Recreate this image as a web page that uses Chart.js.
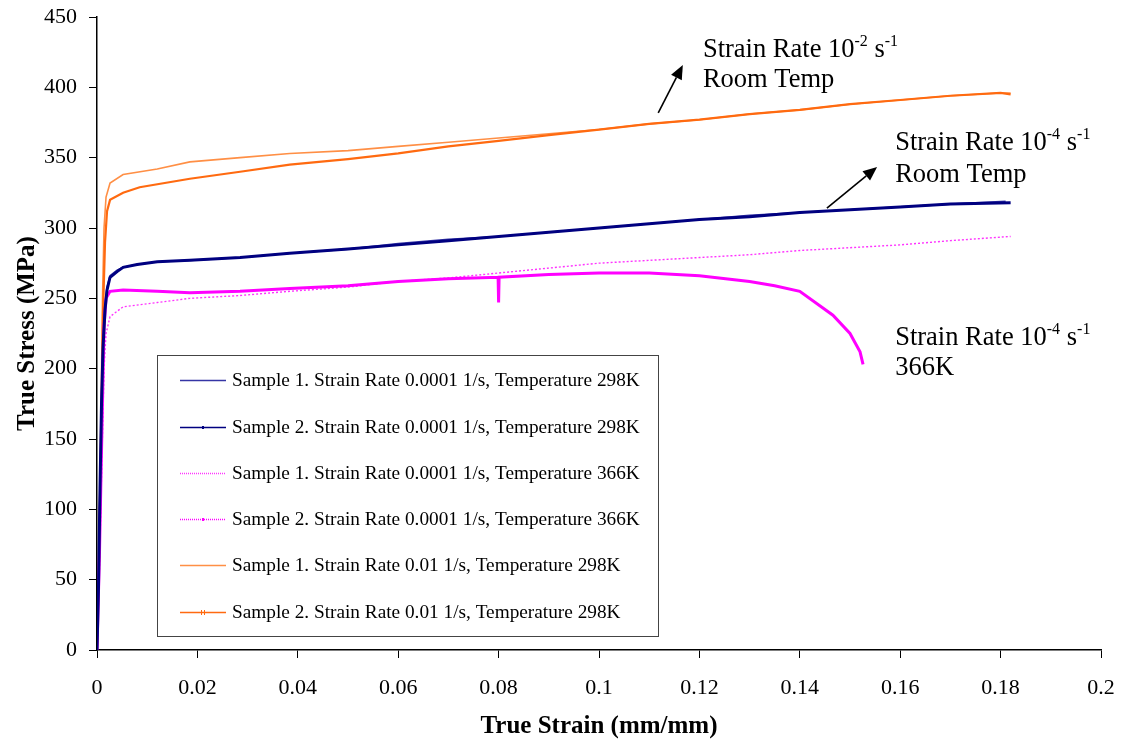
<!DOCTYPE html>
<html><head><meta charset="utf-8">
<script src="https://cdn.jsdelivr.net/npm/chart.js@4.4.1/dist/chart.umd.min.js"></script>
<style>html,body{margin:0;padding:0;background:#fff}#wrap{width:1128px;height:746px;position:relative}</style>
</head><body><div id="wrap"><canvas id="c" width="1128" height="746"></canvas></div>
<script>
// ---- data (true strain mm/mm, true stress MPa) ----
const xTicks = [0,0.02,0.04,0.06,0.08,0.1,0.12,0.14,0.16,0.18,0.2];
const yTicks = [0,50,100,150,200,250,300,350,400,450];

const strainNavy1 = [0,0.0003,0.0006,0.0009,0.0012,0.0016,0.002,0.0026,0.004,0.0052,0.008,0.012,0.0185,0.0285,0.0384,0.05,0.06,0.07,0.08,0.09,0.1,0.11,0.12,0.13,0.14,0.15,0.16,0.17,0.181];
const stressNavy1 = [0,50,120,180,220,245,258,266,270,272,274,276,277,279,282,285,289,292,294,297,300,303,306,309,311,313,315,317,319];
const strainNavy2 = [0,0.0003,0.0006,0.0009,0.0012,0.0016,0.002,0.0026,0.004,0.0052,0.008,0.012,0.0185,0.0285,0.0384,0.05,0.06,0.07,0.08,0.09,0.1,0.11,0.12,0.13,0.14,0.15,0.16,0.17,0.182];
const stressNavy2 = [0,45,115,175,215,242,256,265,269,272,274,276,277,279,282,285,288,291,294,297,300,303,306,308,311,313,315,317,318];

const strainPink1 = [0,0.0005,0.001,0.0014,0.0018,0.0026,0.0052,0.012,0.0185,0.0285,0.0384,0.05,0.06,0.07,0.08,0.09,0.1,0.11,0.12,0.13,0.14,0.15,0.16,0.17,0.182];
const stressPink1 = [0,60,140,200,225,237,244,247,250,252,255,258,262,264.5,268,271.5,275,277,279,281,284,286,288,291,294];
const strainPink2 = [0,0.0005,0.001,0.0014,0.0018,0.0026,0.0052,0.012,0.0185,0.0285,0.0384,0.05,0.06,0.07,0.0799,0.08,0.0801,0.09,0.1,0.11,0.12,0.13,0.135,0.14,0.1466,0.15,0.152,0.1526];
const stressPink2 = [0,70,160,230,250,255,256,255,254,255,257,259,262,264,265,247,265,267,268,268,266,262,259,255,238,225,212,203];

const strainOrange1 = [0,0.0004,0.0008,0.0011,0.0014,0.0018,0.0026,0.0052,0.012,0.0185,0.0285,0.0384,0.05,0.06,0.07,0.08,0.09,0.1,0.11,0.12,0.13,0.14,0.15,0.16,0.17,0.18,0.182];
const stressOrange1 = [0,80,170,250,300,322,332,338,342,347,350,353,355,358,361,364,367,370,374,377,381,384,388,391,394,396,396];
const strainOrange2 = [0,0.0005,0.0009,0.0012,0.0016,0.002,0.0026,0.0052,0.0085,0.0185,0.0285,0.0384,0.05,0.06,0.07,0.08,0.09,0.1,0.11,0.12,0.13,0.14,0.15,0.16,0.17,0.18,0.182];
const stressOrange2 = [0,80,160,240,290,312,320,325,329,335,340,345,349,353,358,362,366,370,374,377,381,384,388,391,394,396,395];

const seriesLabels = [
  'Sample 1. Strain Rate 0.0001 1/s, Temperature 298K',
  'Sample 2. Strain Rate 0.0001 1/s, Temperature 298K',
  'Sample 1. Strain Rate 0.0001 1/s, Temperature 366K',
  'Sample 2. Strain Rate 0.0001 1/s, Temperature 366K',
  'Sample 1. Strain Rate 0.01 1/s, Temperature 298K',
  'Sample 2. Strain Rate 0.01 1/s, Temperature 298K'
];
const annotations = [
  {x:0.1207, y:421.6, y2:400.2, l1:'Strain Rate 10', e1:'-2', l2:'Room Temp'},
  {x:0.159, y:355.4, y2:332.7, l1:'Strain Rate 10', e1:'-4', l2:'Room Temp'},
  {x:0.159, y:216.8, y2:195.5, l1:'Strain Rate 10', e1:'-4', l2:'366K'}
];
const arrows = [
  {x0:0.1118, y0:381.8, x1:0.1167, y1:415.9},
  {x0:0.1454, y0:314.2, x1:0.1554, y1:343.4}
];

const pts = (xs, ys) => xs.map((x,i)=>({x, y: ys[i]}));
const SERIF = '"Liberation Serif","Times New Roman",serif';

const styles = [
  {c:'#3535a5', w:1.6, dash:[]},
  {c:'#000080', w:3, dash:[]},
  {c:'#ff33ff', w:1.4, dash:[2,2]},
  {c:'#ff00ff', w:3, dash:[]},
  {c:'#ff8f45', w:1.6, dash:[]},
  {c:'#ff6a10', w:2.2, dash:[]}
];
const dataPairs = [
  [strainNavy1, stressNavy1],[strainNavy2, stressNavy2],
  [strainPink1, stressPink1],[strainPink2, stressPink2],
  [strainOrange1, stressOrange1],[strainOrange2, stressOrange2]
];
const drawOrder = [4,5,2,3,0,1];

const datasets = dataPairs.map((p,i)=>({
  label: seriesLabels[i],
  data: pts(p[0], p[1]),
  showLine: true,
  borderColor: styles[i].c,
  backgroundColor: styles[i].c,
  borderWidth: styles[i].w,
  borderDash: styles[i].dash,
  pointRadius: 0,
  tension: 0,
  order: drawOrder.indexOf(i) * -1
}));

const overlay = {
  id: 'overlay',
  afterDraw(chart) {
    const ctx = chart.ctx;
    const xs = chart.scales.x, ys = chart.scales.y;
    ctx.save();
    const bx = 157.5, by = 355.5, bw = 501, bh = 281;
    ctx.fillStyle = '#fff';
    ctx.fillRect(bx, by, bw, bh);
    ctx.strokeStyle = '#444';
    ctx.lineWidth = 1;
    ctx.strokeRect(bx, by, bw, bh);
    const rows = [380, 427, 473, 519, 565, 612];
    ctx.font = '100px ' + SERIF;
    const wRef = ctx.measureText(seriesLabels[0]).width;
    const fs = 100 * 408 / wRef;
    ctx.font = fs.toFixed(2) + 'px ' + SERIF;
    ctx.textBaseline = 'middle';
    rows.forEach((ry, i) => {
      const s = styles[i];
      ctx.strokeStyle = s.c;
      ctx.lineWidth = 1.5;
      ctx.setLineDash(i===2||i===3 ? [1,1] : []);
      ctx.beginPath(); ctx.moveTo(180, ry + 0.5); ctx.lineTo(226, ry + 0.5); ctx.stroke();
      ctx.setLineDash([]);
      ctx.fillStyle = s.c;
      if (i===1 || i===3) { ctx.fillRect(202, ry - 1, 2, 3); }
      if (i===5) { ctx.fillRect(201, ry - 2, 1, 5); ctx.fillRect(204, ry - 2, 1, 5); }
      ctx.fillStyle = '#000';
      ctx.fillText(seriesLabels[i], 232, ry + 1);
    });
    const big = 26.5, small = 16;
    ctx.textBaseline = 'alphabetic';
    annotations.forEach(a => {
      const px = xs.getPixelForValue(a.x);
      const py = ys.getPixelForValue(a.y);
      const py2 = ys.getPixelForValue(a.y2);
      ctx.fillStyle = '#000';
      ctx.font = big + 'px ' + SERIF;
      ctx.fillText(a.l1, px, py);
      let cx = px + ctx.measureText(a.l1).width;
      ctx.font = small + 'px ' + SERIF;
      ctx.fillText(a.e1, cx, py - 11);
      cx += ctx.measureText(a.e1).width;
      ctx.font = big + 'px ' + SERIF;
      ctx.fillText(' s', cx, py);
      cx += ctx.measureText(' s').width;
      ctx.font = small + 'px ' + SERIF;
      ctx.fillText('-1', cx, py - 11);
      ctx.font = big + 'px ' + SERIF;
      ctx.fillText(a.l2, px, py2);
    });
    arrows.forEach(r => {
      const x0 = xs.getPixelForValue(r.x0), y0 = ys.getPixelForValue(r.y0);
      const x1 = xs.getPixelForValue(r.x1), y1 = ys.getPixelForValue(r.y1);
      const ang = Math.atan2(y1 - y0, x1 - x0);
      const hl = 14, hw = 6;
      const bxp = x1 - hl * Math.cos(ang), byp = y1 - hl * Math.sin(ang);
      ctx.strokeStyle = '#000'; ctx.lineWidth = 1.6;
      ctx.beginPath(); ctx.moveTo(x0, y0); ctx.lineTo(bxp, byp); ctx.stroke();
      ctx.fillStyle = '#000';
      ctx.beginPath();
      ctx.moveTo(x1, y1);
      ctx.lineTo(bxp + hw * Math.sin(ang), byp - hw * Math.cos(ang));
      ctx.lineTo(bxp - hw * Math.sin(ang), byp + hw * Math.cos(ang));
      ctx.closePath(); ctx.fill();
    });
    ctx.restore();
  }
};

new Chart(document.getElementById('c'), {
  type: 'scatter',
  data: { datasets },
  options: {
    responsive: false,
    animation: false,
    devicePixelRatio: 1,
    layout: { padding: { left: 0, top: 17, right: 27, bottom: 0 } },
    plugins: { legend: { display: false }, tooltip: { enabled: false } },
    scales: {
      x: {
        type: 'linear', min: 0, max: 0.2,
        afterBuildTicks: s => { s.ticks = xTicks.map(v => ({value: v})); },
        afterFit: s => { s.height = 96; s.paddingLeft = 0; s.paddingRight = 0; },
        grid: { drawOnChartArea: false, drawTicks: true, tickLength: 8, color: '#000', tickWidth: 1 },
        border: { display: true, color: '#000', width: 1.5 },
        ticks: { color: '#000', font: { family: SERIF, size: 22 }, padding: 17, maxRotation: 0,
                 callback: v => String(+v.toFixed(2)) },
        title: { display: true, text: 'True Strain (mm/mm)', color: '#000',
                 font: { family: SERIF, size: 25, weight: 'bold' }, padding: { top: 0, bottom: 4 } }
      },
      y: {
        type: 'linear', min: 0, max: 450,
        afterBuildTicks: s => { s.ticks = yTicks.map(v => ({value: v})); },
        afterFit: s => { s.width = 97; s.paddingTop = 0; s.paddingBottom = 0; },
        grid: { drawOnChartArea: false, drawTicks: true, tickLength: 8, color: '#000', tickWidth: 1 },
        border: { display: true, color: '#000', width: 1.5 },
        ticks: { color: '#000', font: { family: SERIF, size: 22 }, padding: 12 },
        title: { display: true, text: 'True Stress (MPa)', color: '#000',
                 font: { family: SERIF, size: 25, weight: 'bold' }, padding: { top: 13, bottom: 0 } }
      }
    }
  },
  plugins: [overlay]
});
</script>
</body></html>
